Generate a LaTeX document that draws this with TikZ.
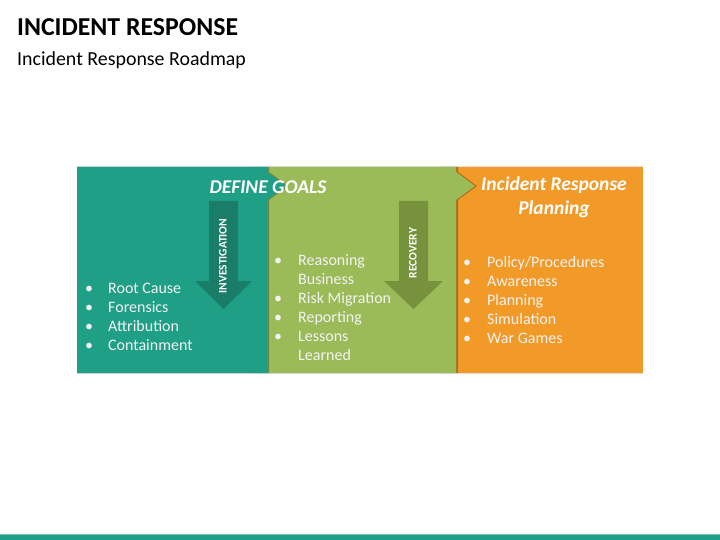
\documentclass[tikz,border=0pt]{standalone}
\usepackage{fontspec}
\setmainfont{Carlito}
\definecolor{tealA}{HTML}{1FA086}
\definecolor{tealD}{HTML}{1A7D68}
\definecolor{greenA}{HTML}{9BBB59}
\definecolor{greenD}{HTML}{76923C}
\definecolor{orangeA}{HTML}{F29A28}
\definecolor{txt}{HTML}{F2F2F2}
\begin{document}
\begin{tikzpicture}[x=1pt,y=-1pt,
  btxt/.style={inner sep=0pt,anchor=base west,text=txt,font=\fontsize{16}{19}\selectfont},
  head/.style={inner sep=0pt,anchor=base,text=white,font=\fontsize{19.5}{23}\selectfont\bfseries\itshape},
  vlab/.style={inner sep=0pt,rotate=90,text=white,font=\fontsize{11.5}{13}\selectfont\bfseries},
  shade/.style={fill=black,opacity=0.28}]
\useasboundingbox (0,0) rectangle (720,540);
% titles
\node[inner sep=0pt,anchor=base west,font=\fontsize{25.8}{30}\selectfont\bfseries] (title) at (17,36) {INCIDENT RESPONSE};
\node[inner sep=0pt,anchor=base west,font=\fontsize{19.9}{24}\selectfont] (sub) at (17,65.5) {Incident Response Roadmap};
% boxes
\fill[black!12] (77,166) rectangle (643,374);
\fill[orangeA] (450,167) rectangle (643,373);
\fill[shade] (458,167) -- (458,172) -- (477,186) -- (458,200) -- (458,373) -- (440,373) -- (440,167) -- cycle;
\fill[greenA] (262,167) -- (456,167) -- (456,172) -- (475,186) -- (456,200) -- (456,373) -- (262,373) -- cycle;
\fill[shade] (269,167) -- (269,172) -- (288,186) -- (269,200) -- (269,373) -- (250,373) -- (250,167) -- cycle;
\fill[tealA] (77,167) -- (267,167) -- (267,172) -- (286,186) -- (267,200) -- (267,373) -- (77,373) -- cycle;
% arrows
\fill[tealD] (209,201) -- (238,201) -- (238,281) -- (252,281) -- (223.5,309) -- (195,281) -- (209,281) -- cycle;
\fill[greenD] (399,201) -- (428,201) -- (428,281) -- (443,281) -- (413.5,309) -- (384,281) -- (399,281) -- cycle;
\node[vlab] (inv) at (223,256) {INVESTIGATION};
\node[vlab] (rec) at (413,253) {RECOVERY};
% headings
\node[head] (dg) at (268,193.5) {DEFINE GOALS};
\node[head] (irp1) at (554,190.5) {Incident Response};
\node[head] (irp2) at (554,214.5) {Planning};
% teal bullets
\foreach \t [count=\i] in {Root Cause,Forensics,Attribution,Containment}{
  \node[btxt] (tb\i) at (85,274+19*\i) {•};
  \node[btxt] (tt\i) at (108,274+19*\i) {\t};
}
% green bullets
\node[btxt] (gb1) at (274,265) {•};
\node[btxt] (gt1) at (298,265) {Reasoning};
\node[btxt] (gt2) at (298,284) {Business};
\node[btxt] (gb3) at (274,303) {•};
\node[btxt] (gt3) at (298,303) {Risk Migration};
\node[btxt] (gb4) at (274,322) {•};
\node[btxt] (gt4) at (298,322) {Reporting};
\node[btxt] (gb5) at (274,341) {•};
\node[btxt] (gt5) at (298,341) {Lessons};
\node[btxt] (gt6) at (298,360) {Learned};
% orange bullets
\foreach \t [count=\i] in {Policy/Procedures,Awareness,Planning,Simulation,War Games}{
  \node[btxt] (ob\i) at (463,248+19*\i) {•};
  \node[btxt] (ot\i) at (487,248+19*\i) {\t};
}
% bottom bar
\fill[tealA!60] (0,533.5) rectangle (720,534.5);
\fill[tealA] (0,534.5) rectangle (720,540);
\end{tikzpicture}
\end{document}
